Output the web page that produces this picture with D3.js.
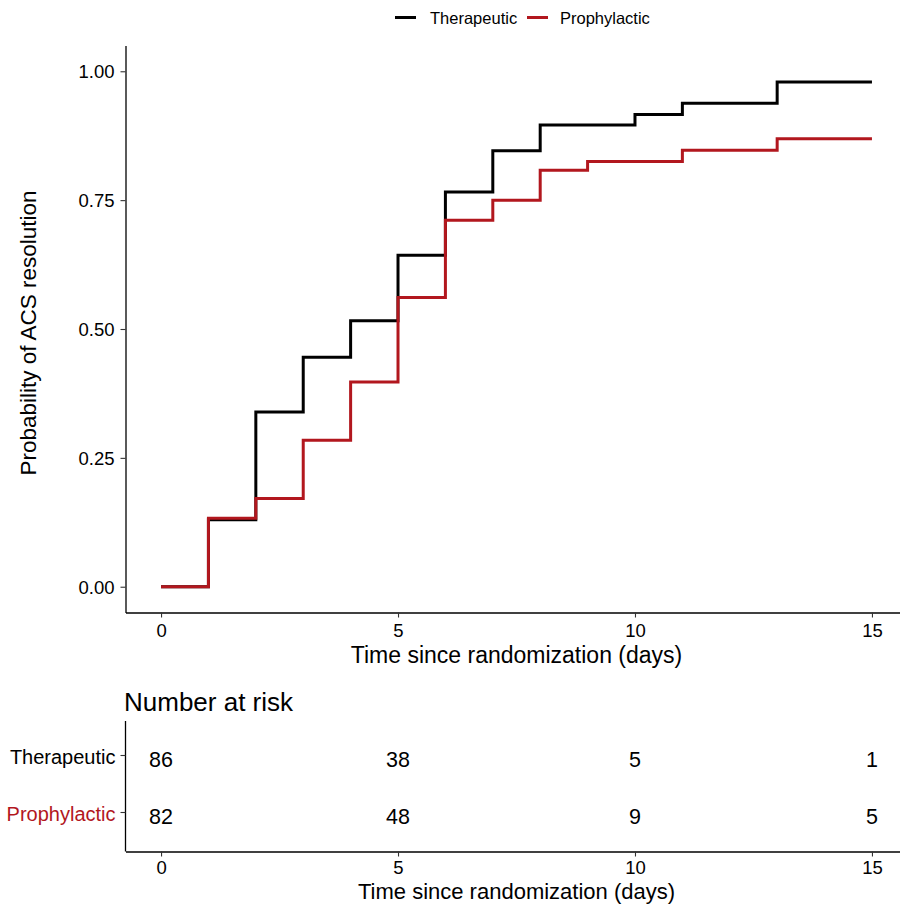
<!DOCTYPE html>
<html><head><meta charset="utf-8">
<script src="https://cdn.jsdelivr.net/npm/d3@7"></script>
<style>body{margin:0;background:#fff;} text{font-family:"Liberation Sans",Arial,sans-serif;}</style>
</head><body>
<svg id="chart" width="900" height="905"></svg>
<script>
const groups = ["Therapeutic", "Prophylactic"];
const colors = ["#000000", "#B2171E"];
const timesTher = [0, 1, 2, 3, 4, 5, 6, 7, 8, 10, 11, 13, 15];
const survTher  = [0, 0.130, 0.339, 0.445, 0.516, 0.643, 0.766, 0.846, 0.896, 0.916, 0.938, 0.979, 0.979];
const timesProph = [0, 1, 2, 3, 4, 5, 6, 7, 8, 9, 11, 13, 15];
const survProph  = [0, 0.133, 0.171, 0.284, 0.397, 0.561, 0.711, 0.750, 0.808, 0.825, 0.847, 0.869, 0.869];
const xTicks = [0, 5, 10, 15];
const yTicks = [0, 0.25, 0.5, 0.75, 1.0];
const riskTimes = [0, 5, 10, 15];
const riskTher = [86, 38, 5, 1];
const riskProph = [82, 48, 9, 5];

const FONT = "Liberation Sans, Arial, sans-serif";
const svg = d3.select("#chart");
const x = d3.scaleLinear().domain([-0.75, 15.75]).range([125.5, 907.5]);
const y = d3.scaleLinear().domain([-0.05, 1.05]).range([612.5, 45.5]);

function styleAxis(g, fs) {
  g.attr("font-size", null);
  g.select(".domain").attr("stroke", "#000").attr("stroke-width", 1.3);
  g.selectAll(".tick line").attr("stroke", "#333").attr("stroke-width", 1.1);
  g.selectAll(".tick text").attr("fill", "#000").style("font-size", fs + "px").style("font-family", FONT);
}

// main axes
const gx = svg.append("g").attr("transform", "translate(0,612.5)")
  .call(d3.axisBottom(x).tickValues(xTicks).tickSize(5).tickSizeOuter(0).tickPadding(6).tickFormat(d3.format("d")));
const gy = svg.append("g").attr("transform", "translate(125.5,0)")
  .call(d3.axisLeft(y).tickValues(yTicks).tickSize(5).tickSizeOuter(0).tickPadding(6).tickFormat(d3.format(".2f")));
styleAxis(gx, 18.5);
styleAxis(gy, 18.5);
gy.selectAll(".tick text").attr("dy", "0.36em");

const line = d3.line().x(d => x(d[0])).y(d => y(d[1])).curve(d3.curveStepAfter);
const series = [d3.zip(timesTher, survTher), d3.zip(timesProph, survProph)];
series.forEach((s, i) => {
  svg.append("path").datum(s).attr("d", line).attr("fill", "none")
    .attr("stroke", colors[i]).attr("stroke-width", 3).attr("stroke-linejoin", "miter").attr("stroke-linecap", "butt");
});

svg.append("text").attr("x", x(7.5)).attr("y", 663).attr("text-anchor", "middle")
  .style("font-size", "23px").text("Time since randomization (days)");
svg.append("text").attr("transform", "translate(36,333) rotate(-90)").attr("text-anchor", "middle")
  .style("font-size", "22.5px").text("Probability of ACS resolution");

// legend
const leg = [{x0: 395, tx: 430}, {x0: 527, tx: 560}];
groups.forEach((g, i) => {
  svg.append("line").attr("x1", leg[i].x0).attr("x2", leg[i].x0 + 21).attr("y1", 17.5).attr("y2", 17.5)
    .attr("stroke", colors[i]).attr("stroke-width", 3);
  svg.append("text").attr("x", leg[i].tx).attr("y", 23.5).style("font-size", "16.5px").text(g);
});

// risk table
svg.append("text").attr("x", 124).attr("y", 711).style("font-size", "26px").text("Number at risk");
const yr = d3.scalePoint().domain(groups).range([755, 812]);
const rx = svg.append("g").attr("transform", "translate(0,851.5)")
  .call(d3.axisBottom(x).tickValues(xTicks).tickSize(5).tickSizeOuter(0).tickPadding(4).tickFormat(d3.format("d")));
const ry = svg.append("g").attr("transform", "translate(125.5,0)")
  .call(d3.axisLeft(yr).tickSize(5).tickSizeOuter(0).tickPadding(5));
ry.select(".domain").attr("d", "M0,721V851.5");
styleAxis(rx, 18.5);
styleAxis(ry, 20);
ry.selectAll(".tick text").attr("fill", (d, i) => colors[i]).attr("dy", "0.4em");

const riskRows = [riskTher, riskProph];
riskRows.forEach((row, i) => {
  svg.append("g").selectAll("text").data(row).join("text")
    .attr("x", (d, j) => x(riskTimes[j])).attr("y", yr(groups[i])).attr("dy", "0.56em")
    .attr("text-anchor", "middle").style("font-size", "21.5px").text(d => d);
});
svg.append("text").attr("x", x(7.5)).attr("y", 899).attr("text-anchor", "middle")
  .style("font-size", "22px").text("Time since randomization (days)");
</script>
</body></html>
